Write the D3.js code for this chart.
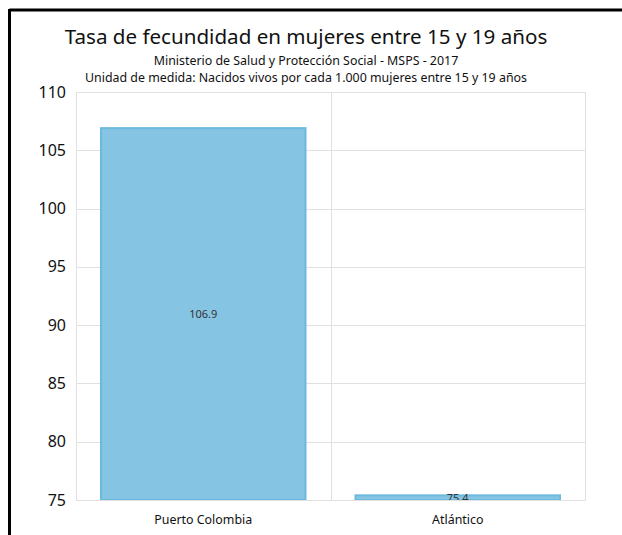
<!DOCTYPE html>
<html>
<head>
<meta charset="utf-8">
<script src="https://cdn.jsdelivr.net/npm/d3@7"></script>
<style>
	body { margin: 0; background: #fff; }
	svg { font-family: "Noto Sans", sans-serif; }
	.grid line { stroke: #e0e0e0; stroke-width: 1; }
	.frame { fill: none; stroke: #e0e0e0; stroke-width: 1; }
</style>
</head>
<body>
<svg class="chart"></svg>
<script>
// chart data
const categories = ["Puerto Colombia", "Atlántico"];
const values = [106.9, 75.4];
const yTicks = [75, 80, 85, 90, 95, 100, 105, 110];
const title = "Tasa de fecundidad en mujeres entre 15 y 19 años";
const subtitles = [
	"Ministerio de Salud y Protección Social - MSPS - 2017",
	"Unidad de medida: Nacidos vivos por cada 1.000 mujeres entre 15 y 19 años",
];

const size = { w: 622, h: 535 };
const margin = { t: 92, r: 37, b: 35, l: 76 };

const svg = d3.select("svg.chart").attr("width", size.w).attr("height", size.h);

// black frame, top and left only
svg.append("line")
	.attr("x1", 9.5).attr("y1", 10).attr("x2", size.w).attr("y2", 10)
	.attr("stroke", "#000").attr("stroke-width", 3);
svg.append("line")
	.attr("x1", 9.5).attr("y1", 9).attr("x2", 9.5).attr("y2", size.h)
	.attr("stroke", "#000").attr("stroke-width", 3);

const xScale = d3.scaleBand()
	.domain(categories)
	.range([margin.l, size.w - margin.r])
	.paddingInner(0)
	.paddingOuter(0);

const yScale = d3.scaleLinear()
	.domain([75, 110])
	.range([size.h - margin.b, margin.t]);

// titles
svg.append("text")
	.attr("x", 306).attr("y", 44)
	.attr("text-anchor", "middle")
	.attr("font-size", 20.6)
	.attr("fill", "#111")
	.text(title);

svg.selectAll("text.sub")
	.data(subtitles)
	.join("text")
	.attr("class", "sub")
	.attr("x", 306)
	.attr("y", (d, i) => 65 + i * 17)
	.attr("text-anchor", "middle")
	.attr("font-size", 12.4)
	.attr("fill", "#111")
	.text((d) => d);

// horizontal grid
const grid = svg.append("g").attr("class", "grid");
grid.selectAll("line.h")
	.data(yTicks)
	.join("line")
	.attr("class", "h")
	.attr("x1", margin.l).attr("x2", size.w - margin.r)
	.attr("y1", (d) => Math.round(yScale(d)) + 0.5)
	.attr("y2", (d) => Math.round(yScale(d)) + 0.5);

// vertical divider between categories
grid.selectAll("line.v")
	.data(categories.slice(1))
	.join("line")
	.attr("class", "v")
	.attr("x1", (d) => Math.round(xScale(d)) + 0.5)
	.attr("x2", (d) => Math.round(xScale(d)) + 0.5)
	.attr("y1", margin.t).attr("y2", size.h - margin.b);

svg.append("rect")
	.attr("class", "frame")
	.attr("x", margin.l + 0.5).attr("y", margin.t + 0.5)
	.attr("width", size.w - margin.r - margin.l)
	.attr("height", size.h - margin.b - margin.t);

// y axis labels
const yAxis = svg.append("g")
	.attr("transform", `translate(${margin.l - 10},0)`)
	.call(d3.axisLeft(yScale).tickValues(yTicks).tickSize(0).tickPadding(0));
yAxis.select(".domain").remove();
yAxis.selectAll("text")
	.attr("font-size", 16)
	.attr("font-family", "Noto Sans, sans-serif")
	.attr("fill", "#111");

// x axis labels
const xAxis = svg.append("g")
	.attr("transform", `translate(0,${size.h - margin.b + 15})`)
	.call(d3.axisBottom(xScale).tickSize(0).tickPadding(0));
xAxis.select(".domain").remove();
xAxis.selectAll("text")
	.attr("font-size", 12.4)
	.attr("font-family", "Noto Sans, sans-serif")
	.attr("fill", "#111");

// clip for bars and labels
svg.append("clipPath").attr("id", "plot-clip")
	.append("rect")
	.attr("x", margin.l).attr("y", margin.t)
	.attr("width", size.w - margin.r - margin.l)
	.attr("height", size.h - margin.b - margin.t);

const plotG = svg.append("g").attr("clip-path", "url(#plot-clip)");
const barInset = 25;

plotG.selectAll("rect.bar")
	.data(values)
	.join("rect")
	.attr("class", "bar")
	.attr("x", (d, i) => xScale(categories[i]) + barInset)
	.attr("width", xScale.bandwidth() - 2 * barInset)
	.attr("y", (d) => yScale(d))
	.attr("height", (d) => yScale(75) - yScale(d))
	.attr("fill", "#86c4e3")
	.attr("stroke", "#6cb9de")
	.attr("stroke-width", 2);

plotG.selectAll("text.value")
	.data(values)
	.join("text")
	.attr("class", "value")
	.attr("x", (d, i) => xScale(categories[i]) + xScale.bandwidth() / 2)
	.attr("y", (d) => (yScale(d) + yScale(75)) / 2)
	.attr("dy", "0.35em")
	.attr("text-anchor", "middle")
	.attr("font-size", 11)
	.attr("fill", "#333")
	.text((d) => d.toFixed(1));
</script>
</body>
</html>
